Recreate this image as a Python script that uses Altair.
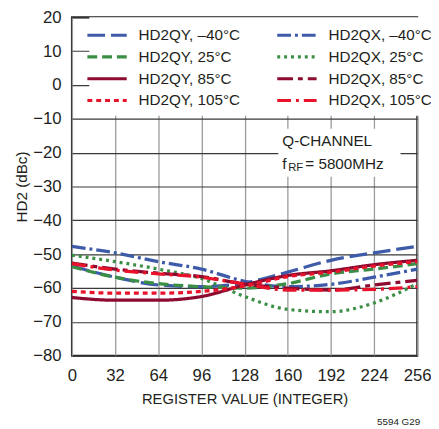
import altair as alt
import pandas as pd

FONT = "Liberation Sans, Arial, sans-serif"

x_vals = [0, 32, 64, 96, 128, 160, 192, 224, 256]
series_names = ["HD2QY, –40°C", "HD2QX, –40°C", "HD2QY, 25°C", "HD2QX, 25°C",
                "HD2QY, 85°C", "HD2QX, 85°C", "HD2QY, 105°C", "HD2QX, 105°C"]
qy_m40 = [-53.5, -56.8, -59.1, -59.6, -58.5, -55.3, -51.8, -49.6, -47.7]
qx_m40 = [-47.7, -49.6, -52.2, -54.4, -58.0, -59.6, -58.9, -56.8, -54.4]
qy_25 = [-53.7, -56.8, -58.7, -59.6, -60.0, -58.7, -55.8, -54.4, -52.8]
qx_25 = [-50.3, -52.2, -54.4, -57.2, -62.5, -66.3, -67.0, -64.4, -58.7]
qy_85 = [-62.8, -63.6, -63.6, -62.5, -59.1, -56.3, -54.9, -53.1, -51.8]
qx_85 = [-52.6, -54.4, -55.6, -56.6, -58.8, -60.0, -60.6, -59.1, -57.7]
qy_105 = [-61.0, -61.5, -61.5, -61.0, -59.4, -56.6, -55.3, -53.5, -52.2]
qx_105 = [-52.8, -54.7, -55.8, -56.8, -58.8, -60.6, -60.6, -60.4, -59.6]
all_series = [qy_m40, qx_m40, qy_25, qx_25, qy_85, qx_85, qy_105, qx_105]

colors = ["#3E5BA9", "#3E5BA9", "#3B8E45", "#3B8E45",
          "#8C0B2F", "#8C0B2F", "#E8122A", "#E8122A"]
dashes = [[18, 6], [14, 4, 3, 4], [10, 5], [3, 4],
          [1, 0], [16, 5, 5, 5], [5, 4], [14, 5, 3, 5]]

x_ticks = [0, 32, 64, 96, 128, 160, 192, 224, 256]
y_ticks = [-80, -70, -60, -50, -40, -30, -20, -10, 0, 10, 20]

rows = []
for name, vals in zip(series_names, all_series):
    for xv, yv in zip(x_vals, vals):
        rows.append({"series": name, "x": xv, "y": yv})
df = pd.DataFrame(rows)

xscale = alt.Scale(domain=[0, 256], nice=False)
yscale = alt.Scale(domain=[-80, 20], nice=False)
xax = alt.Axis(values=x_ticks, title="REGISTER VALUE (INTEGER)",
               labelPadding=12, titlePadding=9, labelFlush=False,
               ticks=False, domain=False, gridColor="#9a9a9a",
               gridWidth=1.3, titleFontSize=15)
yax = alt.Axis(values=y_ticks, title="HD2 (dBc)", labelPadding=11,
               titlePadding=3, ticks=False, domain=False,
               gridColor="#3a3a3a", gridWidth=1.2, titleFontSize=15.5)

legend_opts = dict(title=None, orient="none", legendX=17.7, legendY=0,
                   direction="horizontal", columns=2, columnPadding=30,
                   rowPadding=1.2, padding=6, fillColor="white",
                   symbolType="M-2,0H2", symbolSize=400,
                   symbolStrokeWidth=3.2, labelOffset=20,
                   labelFontSize=15.5, labelFont=FONT,
                   labelColor="#231f20", labelLimit=200)

lines = alt.Chart(df).mark_line(strokeWidth=3.3, interpolate="monotone").encode(
    x=alt.X("x:Q", scale=xscale, axis=xax),
    y=alt.Y("y:Q", scale=yscale, axis=yax),
    color=alt.Color("series:N", scale=alt.Scale(domain=series_names, range=colors),
                    sort=series_names, legend=alt.Legend(**legend_opts)),
    strokeDash=alt.StrokeDash("series:N",
                              scale=alt.Scale(domain=series_names, range=dashes),
                              sort=series_names, legend=alt.Legend(**legend_opts)),
)

box_data = alt.Data(values=[{"bx": 153, "bx2": 243.6, "by": -12.9, "by2": -27.1}])
box = alt.Chart(box_data).mark_rect(color="white").encode(
    x=alt.X("bx:Q", scale=xscale, axis=xax), x2="bx2:Q",
    y=alt.Y("by:Q", scale=yscale, axis=yax), y2="by2:Q",
)

ann_data = alt.Data(values=[
    {"tx": 156, "ty": -17.9, "t": "Q-CHANNEL", "size": 15.5},
    {"tx": 156, "ty": -24.9, "t": "f", "size": 15.5},
    {"tx": 160.3, "ty": -25.5, "t": "RF", "size": 11.5},
    {"tx": 173.0, "ty": -24.9, "t": "= 5800MHz", "size": 15.5},
])
ann = alt.Chart(ann_data).mark_text(font=FONT, align="left", baseline="alphabetic",
                                    color="#231f20").encode(
    x=alt.X("tx:Q", scale=xscale, axis=xax),
    y=alt.Y("ty:Q", scale=yscale, axis=yax),
    text="t:N",
    size=alt.Size("size:Q", scale=None, legend=None),
)

code = alt.Chart(alt.Data(values=[{"c": "5594 G29"}])).mark_text(
    font=FONT, fontSize=10, align="right", baseline="middle", color="#231f20"
).encode(text="c:N", x=alt.value(354), y=alt.value(411))

chart = alt.layer(lines, box, ann, code).properties(
    width=351, height=344,
    background="white",
    autosize=alt.AutoSizeParams(type="none"),
    padding={"left": 65, "top": 6, "right": 14, "bottom": 70},
).configure_view(
    stroke="#231f20", strokeWidth=2
).configure_axis(
    labelFont=FONT, labelFontSize=17, labelColor="#231f20",
    titleFont=FONT, titleFontWeight="normal", titleColor="#231f20",
)

chart.save("out.html", embed_options={"renderer": "svg", "actions": False})
